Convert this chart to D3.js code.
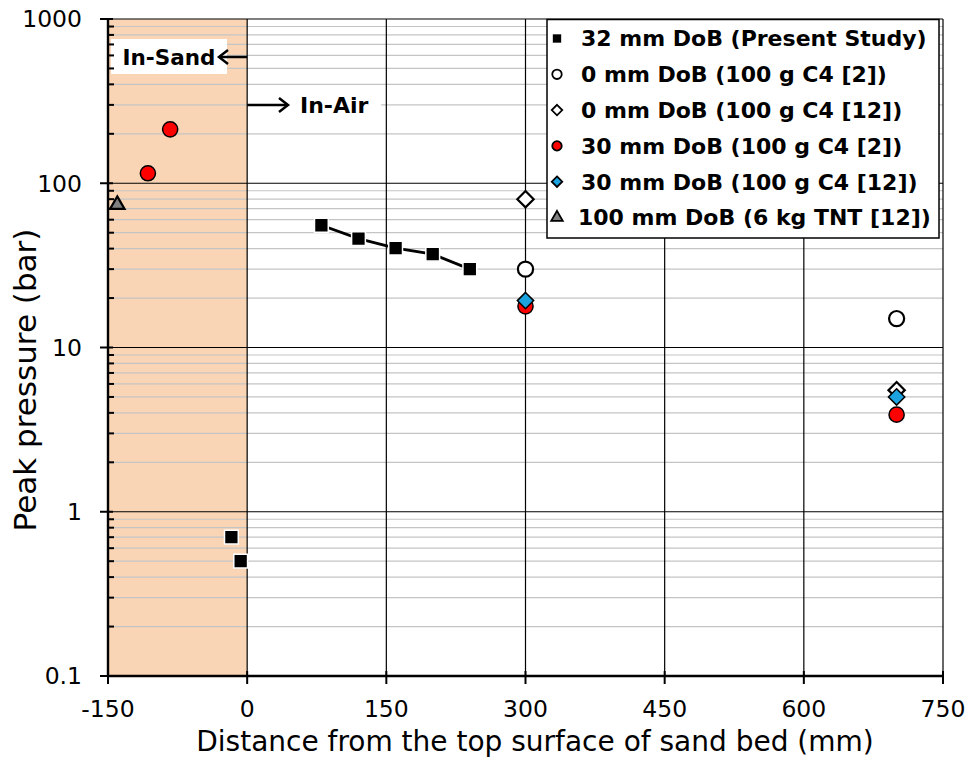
<!DOCTYPE html>
<html>
<head>
<meta charset="utf-8">
<script src="https://cdn.jsdelivr.net/npm/d3@7"></script>
<style>
  body { margin: 0; background: #fff; }
  text { font-family: "DejaVu Sans", Verdana, sans-serif; }
</style>
</head>
<body>
<div id="chart"></div>
<script>
// data
let presentX = [80, 120, 160, 200, 240];
let presentY = [55.5, 46, 40.3, 37, 30];
let presentSandX = [-17, -7];
let presentSandY = [0.7, 0.5];
let c4ref2zeroX = [300, 700];
let c4ref2zeroY = [30, 15];
let c4ref12zeroX = [300, 700];
let c4ref12zeroY = [80, 5.5];
let c4ref2thirtyX = [-107, -83, 300, 700];
let c4ref2thirtyY = [115, 213, 17.8, 3.9];
let c4ref12thirtyX = [300, 700];
let c4ref12thirtyY = [19.3, 5.0];
let tntX = [-140];
let tntY = [74];

let xTicks = [-150, 0, 150, 300, 450, 600, 750];
let yTicks = [0.1, 1, 10, 100, 1000];
let legendLabels = ['32 mm DoB (Present Study)', '0 mm DoB (100 g C4 [2])', '0 mm DoB (100 g C4 [12])',
    '30 mm DoB (100 g C4 [2])', '30 mm DoB (100 g C4 [12])', '100 mm DoB (6 kg TNT [12])'];

let W = 971, H = 757;
let pLeft = 108, pRight = 943, pTop = 19, pBottom = 676;

let svg = d3.select('#chart').append('svg')
    .attr('width', W)
    .attr('height', H);

let x = d3.scaleLinear().domain([-150, 750]).range([pLeft, pRight]);
let y = d3.scaleLog().domain([0.1, 1000]).range([pBottom, pTop]);

// sand region
svg.append('rect')
    .attr('x', x(-150)).attr('y', pTop)
    .attr('width', x(0) - x(-150)).attr('height', pBottom - pTop)
    .attr('fill', '#fad5b5');

// minor gridlines
let minor = [];
for (let d = 0.1; d < 1000; d *= 10)
    for (let k = 2; k <= 9; k++) minor.push(d * k);

svg.append('g').selectAll('line')
    .data(minor).join('line')
    .attr('x1', pLeft).attr('x2', pRight)
    .attr('y1', d => y(d)).attr('y2', d => y(d))
    .attr('stroke', '#c4c4c4').attr('stroke-width', 1.2);

// major gridlines
svg.append('g').selectAll('line')
    .data(yTicks).join('line')
    .attr('x1', pLeft).attr('x2', pRight)
    .attr('y1', d => y(d)).attr('y2', d => y(d))
    .attr('stroke', '#000').attr('stroke-width', 1.2);

svg.append('g').selectAll('line')
    .data(xTicks).join('line')
    .attr('x1', d => x(d)).attr('x2', d => x(d))
    .attr('y1', pTop).attr('y2', pBottom)
    .attr('stroke', '#000').attr('stroke-width', 1.2);

// In-Sand / In-Air annotations
svg.append('rect').attr('x', 111).attr('y', 39).attr('width', 116).attr('height', 35).attr('fill', '#fff');
svg.append('rect').attr('x', x(0) + 1).attr('y', 92).attr('width', 133).attr('height', 27).attr('fill', '#fff');
svg.append('text').attr('x', 169).attr('y', 57).attr('dy', '0.35em')
    .attr('text-anchor', 'middle').attr('font-size', 21.5).attr('font-weight', 'bold').text('In-Sand');
svg.append('text').attr('x', 300).attr('y', 105).attr('dy', '0.35em')
    .attr('font-size', 22).attr('font-weight', 'bold').text('In-Air');

let arrows = svg.append('g').attr('stroke', '#000').attr('stroke-width', 2.5).attr('fill', 'none');
arrows.append('line').attr('x1', x(0)).attr('x2', 219).attr('y1', 57).attr('y2', 57);
arrows.append('path').attr('d', 'M228,50 L219,57 L228,64');
arrows.append('line').attr('x1', x(0)).attr('x2', 288).attr('y1', 105).attr('y2', 105);
arrows.append('path').attr('d', 'M279,98 L288,105 L279,112');

// axes frame
let axisG = svg.append('g').attr('stroke', '#000').attr('stroke-width', 2.4);
axisG.append('line').attr('x1', pLeft).attr('x2', pLeft).attr('y1', pTop).attr('y2', pBottom);
axisG.append('line').attr('x1', pLeft).attr('x2', pRight).attr('y1', pBottom).attr('y2', pBottom);

// y axis ticks
svg.append('g').selectAll('line')
    .data(yTicks).join('line')
    .attr('x1', pLeft - 8).attr('x2', pLeft + 5)
    .attr('y1', d => y(d)).attr('y2', d => y(d))
    .attr('stroke', '#000').attr('stroke-width', 2);
svg.append('g').selectAll('line')
    .data(minor).join('line')
    .attr('x1', pLeft).attr('x2', pLeft + 6)
    .attr('y1', d => y(d)).attr('y2', d => y(d))
    .attr('stroke', '#000').attr('stroke-width', 2);
svg.append('g').selectAll('text')
    .data(yTicks).join('text')
    .attr('x', pLeft - 26).attr('y', d => y(d)).attr('dy', '0.36em')
    .attr('text-anchor', 'end').attr('font-size', 23.5)
    .text(d => d3.format('~g')(d));

// x axis ticks
svg.append('g').selectAll('line')
    .data(xTicks).join('line')
    .attr('x1', d => x(d)).attr('x2', d => x(d))
    .attr('y1', pBottom - 5).attr('y2', pBottom + 8)
    .attr('stroke', '#000').attr('stroke-width', 2);
svg.append('g').selectAll('text')
    .data(xTicks).join('text')
    .attr('x', d => x(d)).attr('y', 717)
    .attr('text-anchor', 'middle').attr('font-size', 23.5)
    .text(d => d);

// axis titles
svg.append('text').attr('x', 535).attr('y', 751)
    .attr('text-anchor', 'middle').attr('font-size', 28)
    .text('Distance from the top surface of sand bed (mm)');
svg.append('text')
    .attr('transform', 'translate(36, 380) rotate(-90)')
    .attr('text-anchor', 'middle').attr('font-size', 31)
    .text('Peak pressure (bar)');

// markers
function zip(xs, ys) { return xs.map((v, i) => ({x: v, y: ys[i]})); }

let line = d3.line().x(d => x(d.x)).y(d => y(d.y));
svg.append('path')
    .datum(zip(presentX, presentY))
    .attr('d', line)
    .attr('fill', 'none').attr('stroke', '#000').attr('stroke-width', 2.8);

let sym = {
    square: d3.symbol().type(d3.symbolSquare),
    circle: d3.symbol().type(d3.symbolCircle),
    diamond: d3.symbol().type(d3.symbolDiamond2),
    triangle: d3.symbol().type(d3.symbolTriangle2)
};

let series = [
    {pts: zip(presentX.concat(presentSandX), presentY.concat(presentSandY)), s: 'square', size: 190, fill: '#000', stroke: '#fff', sw: 1.5},
    {pts: zip(c4ref2zeroX, c4ref2zeroY), s: 'circle', size: 180, fill: '#fff', stroke: '#000', sw: 2.2},
    {pts: zip(c4ref12zeroX, c4ref12zeroY), s: 'diamond', size: 170, fill: '#fff', stroke: '#000', sw: 2.2},
    {pts: zip(c4ref2thirtyX, c4ref2thirtyY), s: 'circle', size: 180, fill: '#ff0000', stroke: '#000', sw: 1.5},
    {pts: zip(c4ref12thirtyX, c4ref12thirtyY), s: 'diamond', size: 170, fill: '#1ba3e0', stroke: '#000', sw: 1.5},
    {pts: zip(tntX, tntY), s: 'triangle', size: 150, fill: '#808080', stroke: '#000', sw: 2.2}
];

series.forEach(sr => {
    svg.append('g').selectAll('path')
        .data(sr.pts).join('path')
        .attr('transform', d => `translate(${x(d.x)},${y(d.y)})`)
        .attr('d', sym[sr.s].size(sr.size)())
        .attr('fill', sr.fill).attr('stroke', sr.stroke).attr('stroke-width', sr.sw);
});

// legend
let lg = svg.append('g');
lg.append('rect').attr('x', 547).attr('y', 19.5).attr('width', 392).attr('height', 218.5)
    .attr('fill', '#fff').attr('stroke', '#000').attr('stroke-width', 1.5);
let rows = lg.selectAll('g.row')
    .data(series.map((sr, i) => ({sr: sr, label: legendLabels[i]})))
    .join('g').attr('class', 'row')
    .attr('transform', (d, i) => `translate(557, ${38.5 + i * 35.8})`);
rows.append('path')
    .attr('d', d => sym[d.sr.s].size(d.sr.s === 'triangle' ? 95 : 70)())
    .attr('fill', d => d.sr.fill)
    .attr('stroke', d => d.sr.stroke === '#fff' ? 'none' : '#000')
    .attr('stroke-width', 1.8);
rows.append('text')
    .attr('x', (d, i) => i === 5 ? 21 : 24).attr('dy', '0.36em')
    .attr('font-size', 22).attr('font-weight', 'bold')
    .text(d => d.label);
</script>
</body>
</html>
